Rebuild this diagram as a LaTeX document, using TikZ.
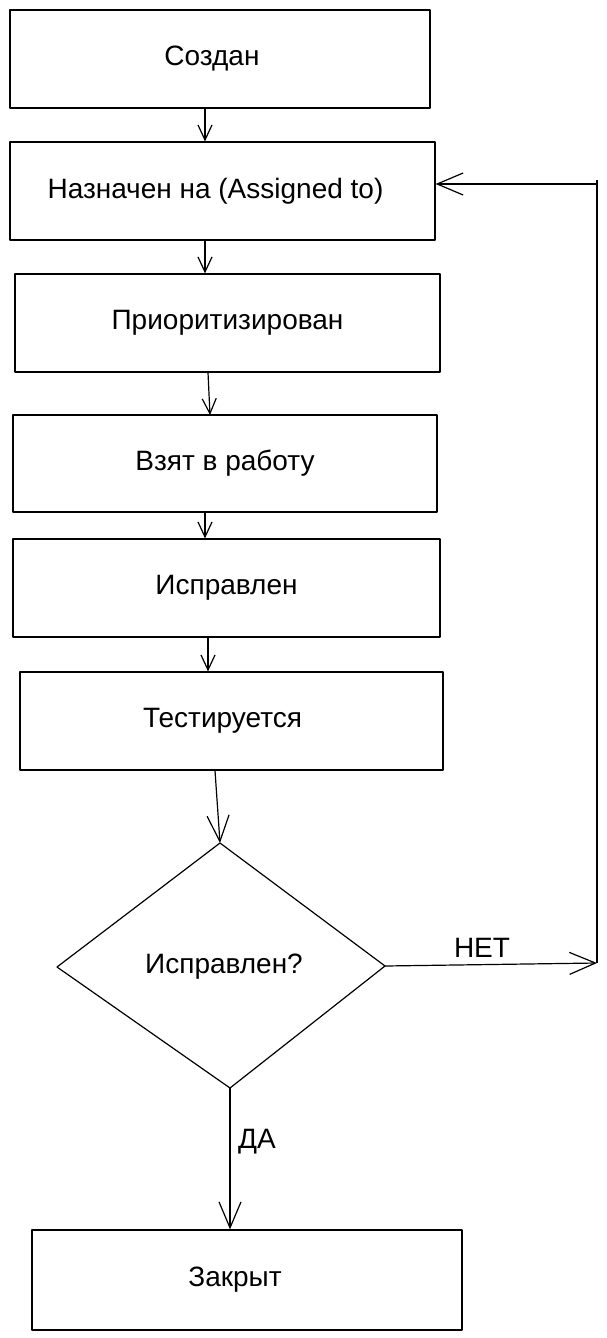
\documentclass[tikz,border=0pt]{standalone}
\usepackage{fontspec}
\setmainfont{Liberation Sans}
\usetikzlibrary{arrows.meta}
\begin{document}
\begin{tikzpicture}[x=1pt,y=-1pt,
  line width=1.2pt, line join=round,
  box/.style={draw=black, rectangle, inner sep=0pt, font=\fontsize{28}{32}\selectfont},
  lbl/.style={inner sep=0pt, font=\fontsize{28}{32}\selectfont},
  arrS/.style={-{Straight Barb[length=15pt,width=14pt,line width=1.2pt]}},
  arrL/.style={-{Straight Barb[length=26pt,width=22pt,line width=1.2pt]}}]
\useasboundingbox (0,0) rectangle (607,1338);
\fill[white] (0,0) rectangle (607,1338);
% boxes
\node[box, minimum width=420pt, minimum height=98pt] (b1) at (220,59) {Создан\kern16pt};
\node[box, minimum width=425pt, minimum height=98pt] (b2) at (222.5,191) {Назначен на (Assigned to)\kern14pt};
\node[box, minimum width=425pt, minimum height=98pt] (b3) at (227.5,323) {Приоритизирован};
\node[box, minimum width=424pt, minimum height=97pt] (b4) at (225,463.5) {Взят в работу};
\node[box, minimum width=427pt, minimum height=98pt] (b5) at (226.5,588) {Исправлен};
\node[box, minimum width=423pt, minimum height=98pt] (b6) at (231.5,721) {Тестируется\kern18pt};
\node[box, minimum width=430pt, minimum height=100pt] (b7) at (247,1280) {Закрыт\kern24pt};
% diamond
\coordinate (dt) at (220,843);
\coordinate (dl) at (57,967);
\coordinate (dr) at (385,966);
\coordinate (db) at (230,1088);
\draw (dt) -- (dr) -- (db) -- (dl) -- cycle;
\node[lbl] (dq) at (224,967) {Исправлен?};
% helper coordinates
\coordinate (x205) at (205,0);
\coordinate (x208) at (208,0);
\coordinate (x215) at (215,0);
\coordinate (c1) at (597,963);
\coordinate (c2) at (597,184);
\coordinate (c3) at (597,180);
% connectors
\draw[arrS] (b1.south -| x205) -- (b2.north -| x205);
\draw[arrS] (b2.south -| x205) -- (b3.north -| x205);
\draw[arrS] (b3.south -| x208) -- (210,415);
\draw[arrS] (b4.south -| x205) -- (b5.north -| x205);
\draw[arrS] (b5.south -| x208) -- (b6.north -| x208);
\draw[arrL] (b6.south -| x215) -- (dt);
\draw[arrL] (dr) -- (c1);
\draw (c1) -- (c3);
\draw[arrL] (c2) -- (c2 -| b2.east);
\draw[arrL] (db) -- (db |- b7.north);
% labels
\node[lbl] (no) at (482,948) {НЕТ};
\node[lbl] (yes) at (257,1142) {ДА};
\end{tikzpicture}
\end{document}
